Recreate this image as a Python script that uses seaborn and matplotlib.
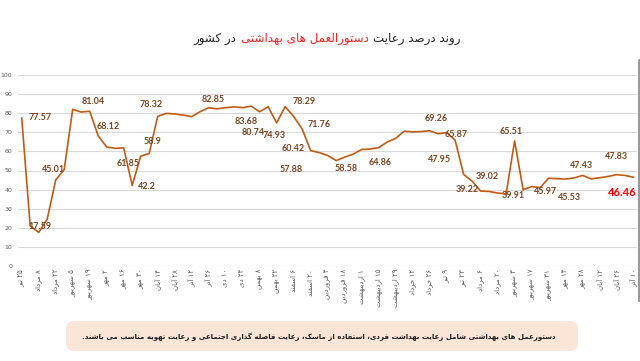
import re
import numpy as np
import pandas as pd
import matplotlib
matplotlib.use("Agg")
import matplotlib.pyplot as plt
from matplotlib.patches import FancyBboxPatch
import seaborn as sns

# weekly share (%) of people following the health protocols
values = [77.57, 21.0, 17.59, 24.5, 45.01, 50.5, 82.0, 80.6, 81.04, 68.12,
          62.3, 61.6, 61.85, 42.2, 57.5, 58.9, 78.32, 79.9, 79.6, 79.0,
          78.2, 80.8, 82.85, 82.3, 82.9, 83.3, 82.9, 83.68, 80.74, 83.4,
          74.93, 83.4, 78.29, 71.76, 60.42, 59.4, 57.88, 55.2, 57.0, 58.58,
          61.0, 61.2, 62.0, 64.86, 66.8, 70.6, 70.2, 70.4, 70.8, 69.26,
          69.9, 65.87, 47.95, 44.4, 39.22, 39.02, 38.2, 37.7, 65.51, 39.91,
          41.6, 41.0, 45.97, 45.7, 45.53, 46.1, 47.43, 45.6, 46.2, 46.9,
          47.83, 47.4, 46.46]

# one date label every second week
tick_labels = ["۲۵ تیر", "۸ مرداد", "۲۲ مرداد", "۵ شهریور", "۱۹ شهریور", "۲ مهر",
               "۱۶ مهر", "۳۰ مهر", "۱۴ آبان", "۲۸ آبان", "۱۲ آذر", "۲۶ آذر",
               "۱۰ دی", "۲۴ دی", "۸ بهمن", "۲۲ بهمن", "۶ اسفند", "۲۰ اسفند",
               "۴ فروردین", "۱۸ فروردین", "۱ اردیبهشت", "۱۵ اردیبهشت", "۲۹ اردیبهشت",
               "۱۲ خرداد", "۲۶ خرداد", "۹ تیر", "۲۳ تیر", "۶ مرداد", "۲۰ مرداد",
               "۳ شهریور", "۱۷ شهریور", "۳۱ شهریور", "۱۴ مهر", "۲۸ مهر", "۱۲ آبان",
               "۲۶ آبان", "۱۰ آذر"]

# which weeks carry a value label
labelled = [0, 2, 4, 8, 9, 12, 13, 15, 16, 22, 27, 28, 30, 32, 33, 34, 36, 39,
            43, 49, 51, 52, 54, 55, 58, 59, 62, 64, 66, 70, 72]

title_parts = ["روند درصد رعایت", "دستورالعمل های بهداشتی", "در کشور"]
note = ("دستورعمل های بهداشتی شامل رعایت بهداشت فردی، استفاده از ماسک، "
        "رعایت فاصله گذاری اجتماعی و رعایت تهویه مناسب می باشند.")

# label placement (pixels from the point)
label_offsets = {0: (18, 0), 2: (1, 6), 4: (-2, 11), 8: (4, 10), 9: (10, 9),
                 12: (5, -16), 13: (15, -1), 15: (3, 12), 16: (-7, 12),
                 22: (5, 8), 27: (-5, -15), 28: (-6, -21), 30: (-3, -13),
                 32: (10, 15), 33: (17, 4), 34: (-17, 2), 36: (-36, -14),
                 39: (-7, -14), 43: (-7, -20), 49: (-2, 15), 51: (1, 6),
                 52: (-24, 15), 54: (-13, 2), 55: (-2, 15), 58: (-3, 9),
                 59: (-10, -6), 62: (-3, -13), 64: (4, -18), 66: (-1, 10),
                 70: (0, 18), 72: (-11, -15)}

# minimal Persian shaping: presentation forms + right-to-left order
FORMS = {
    'ا': (0xFE8D, 0xFE8E, None, None), 'آ': (0xFE81, 0xFE82, None, None),
    'ب': (0xFE8F, 0xFE90, 0xFE91, 0xFE92), 'پ': (0xFB56, 0xFB57, 0xFB58, 0xFB59),
    'ت': (0xFE95, 0xFE96, 0xFE97, 0xFE98), 'ث': (0xFE99, 0xFE9A, 0xFE9B, 0xFE9C),
    'ج': (0xFE9D, 0xFE9E, 0xFE9F, 0xFEA0), 'چ': (0xFB7A, 0xFB7B, 0xFB7C, 0xFB7D),
    'ح': (0xFEA1, 0xFEA2, 0xFEA3, 0xFEA4), 'خ': (0xFEA5, 0xFEA6, 0xFEA7, 0xFEA8),
    'د': (0xFEA9, 0xFEAA, None, None), 'ذ': (0xFEAB, 0xFEAC, None, None),
    'ر': (0xFEAD, 0xFEAE, None, None), 'ز': (0xFEAF, 0xFEB0, None, None),
    'ژ': (0xFB8A, 0xFB8B, None, None),
    'س': (0xFEB1, 0xFEB2, 0xFEB3, 0xFEB4), 'ش': (0xFEB5, 0xFEB6, 0xFEB7, 0xFEB8),
    'ص': (0xFEB9, 0xFEBA, 0xFEBB, 0xFEBC), 'ض': (0xFEBD, 0xFEBE, 0xFEBF, 0xFEC0),
    'ط': (0xFEC1, 0xFEC2, 0xFEC3, 0xFEC4), 'ظ': (0xFEC5, 0xFEC6, 0xFEC7, 0xFEC8),
    'ع': (0xFEC9, 0xFECA, 0xFECB, 0xFECC), 'غ': (0xFECD, 0xFECE, 0xFECF, 0xFED0),
    'ف': (0xFED1, 0xFED2, 0xFED3, 0xFED4), 'ق': (0xFED5, 0xFED6, 0xFED7, 0xFED8),
    'ک': (0xFB8E, 0xFB8F, 0xFB90, 0xFB91), 'گ': (0xFB92, 0xFB93, 0xFB94, 0xFB95),
    'ل': (0xFEDD, 0xFEDE, 0xFEDF, 0xFEE0), 'م': (0xFEE1, 0xFEE2, 0xFEE3, 0xFEE4),
    'ن': (0xFEE5, 0xFEE6, 0xFEE7, 0xFEE8), 'و': (0xFEED, 0xFEEE, None, None),
    'ه': (0xFEE9, 0xFEEA, 0xFEEB, 0xFEEC), 'ی': (0xFBFC, 0xFBFD, 0xFBFE, 0xFBFF),
}


def fa(text):
    out = []
    i, n = 0, len(text)
    while i < n:
        c = text[i]
        f = FORMS.get(c)
        if f is None:
            out.append(c)
            i += 1
            continue
        prev = text[i - 1] if i > 0 else ''
        joins_prev = prev in FORMS and FORMS[prev][2] is not None
        if c == 'ل' and i + 1 < n and text[i + 1] in 'اآ':
            lig = {'ا': (0xFEFB, 0xFEFC), 'آ': (0xFEF5, 0xFEF6)}[text[i + 1]]
            out.append(chr(lig[1] if joins_prev else lig[0]))
            i += 2
            continue
        nxt = text[i + 1] if i + 1 < n else ''
        joins_next = f[2] is not None and nxt in FORMS
        k = 3 if (joins_prev and joins_next) else 1 if joins_prev else 2 if joins_next else 0
        out.append(chr(f[k]))
        i += 1
    vis = ''.join(out)[::-1]
    return re.sub(r'[0-9۰-۹]+', lambda m: m.group(0)[::-1], vis)


df = pd.DataFrame({"week": np.arange(len(values)), "value": values})

sns.set_style("white")
plt.rcParams['font.family'] = ['DejaVu Sans']

line_color = "#C55A11"
label_color = "#7A4520"
grey = "#595959"

fig = plt.figure(figsize=(6.4, 3.61), dpi=100)
ax = fig.add_axes([18 / 640, 95 / 361, 619 / 640, 191 / 361])

sns.lineplot(data=df, x="week", y="value", color=line_color, linewidth=1.2,
             ax=ax, solid_joinstyle="round", solid_capstyle="round")

ax.set_ylim(0, 100)
ax.set_xlim(-0.435, 72.4)
ax.set_yticks(range(0, 101, 10))
ax.set_yticklabels([str(v) for v in range(0, 101, 10)], fontsize=4.5, color=grey)
ax.yaxis.grid(True, color="#D9D9D9", linewidth=0.8)
ax.xaxis.grid(False)
ax.set_xticks(df["week"][::2], labels=[fa(t) for t in tick_labels],
              rotation=90, fontsize=5, color=grey)
ax.tick_params(length=0, axis='y', pad=4)
ax.tick_params(length=0, axis='x', pad=2)
ax.set_xlabel("")
ax.set_ylabel("")
for s in ax.spines.values():
    s.set_visible(False)

for j in labelled:
    v = values[j]
    dx, dy = label_offsets[j]
    last = j == len(values) - 1
    ax.annotate(f"{v:g}", xy=(j, v), xytext=(dx, dy), textcoords="offset pixels",
                ha="center", va="center", annotation_clip=False,
                fontsize=8 if last else 6.5, fontweight="bold",
                family="Lato", color="#FF0000" if last else label_color)

# title in three colored pieces (right-to-left)
mid = fig.text(0.476, 0.892, fa(title_parts[1]), color="#FF1F1F",
               ha="center", va="center", fontsize=8.6)
ax.annotate(fa(title_parts[0]), xy=(1, 0.5), xycoords=mid, xytext=(3, 0),
            textcoords="offset points", ha="left", va="center",
            fontsize=8.6, color="#222222", annotation_clip=False)
ax.annotate(fa(title_parts[2]), xy=(0, 0.5), xycoords=mid, xytext=(-3, 0),
            textcoords="offset points", ha="right", va="center",
            fontsize=8.6, color="#222222", annotation_clip=False)

# note box
box = FancyBboxPatch((66 / 640, 1 - 351 / 361), 512 / 640, 30 / 361,
                     boxstyle="round,pad=0,rounding_size=0.012",
                     transform=fig.transFigure, facecolor="#FBE5D6",
                     edgecolor="none", mutation_aspect=1.77)
fig.add_artist(box)
fig.text(0.498, 1 - 336.5 / 361, fa(note), ha="center", va="center",
         fontsize=5.0, fontweight="bold", color="#1a1a1a")

# frame edge on the right
fig.add_artist(plt.Line2D([638.5 / 640, 638.5 / 640], [1 - 300 / 361, 1 - 60 / 361],
                          transform=fig.transFigure, color="#9A9A9A", linewidth=2.2))

fig.savefig("out.png", dpi=100)
